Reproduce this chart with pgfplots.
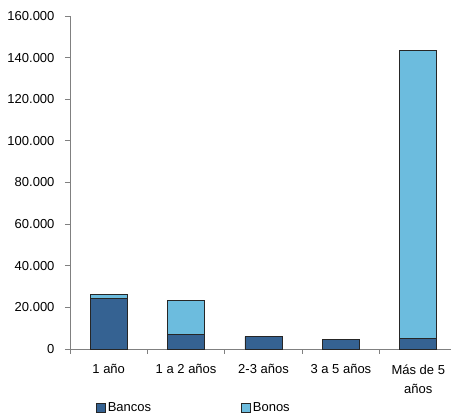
\documentclass[border=0pt]{standalone}
\usepackage{pgfplots}
\pgfplotsset{compat=1.18}
\usepackage{fontspec}
\setmainfont{Liberation Sans}
\definecolor{bancos}{RGB}{53,98,146}
\definecolor{bonos}{RGB}{108,188,222}
\definecolor{axisgray}{RGB}{128,128,128}
\begin{document}
\fontsize{13}{15}\selectfont
\begin{tikzpicture}[x=1pt,y=1pt]
% page frame around the axis box (axis origin at 0,0)
\useasboundingbox (-70,-69) rectangle (381,349);
\begin{axis}[
  anchor=south west,
  scale only axis, width=387pt, height=333pt,
  ybar stacked, bar width=37pt,
  xmin=0.5, xmax=5.5, ymin=0, ymax=160000,
  enlargelimits=false, clip=false,
  axis x line=bottom, axis y line=left,
  axis line style={axisgray, line width=0.8pt, -},
  tick align=outside,
  xtick={1,2,3,4,5},
  xticklabels={1 año, 1 a 2 años, 2-3 años, 3 a 5 años, {Más de 5\\años}},
  major x tick style={draw=none},
  minor xtick={0.5,1.5,2.5,3.5,4.5,5.5},
  minor x tick style={axisgray, line width=0.8pt},
  minor tick length=5pt, major tick length=5pt,
  ytick={0,20000,40000,60000,80000,100000,120000,140000,160000},
  y tick style={axisgray, line width=0.8pt},
  scaled y ticks=false,
  /pgf/number format/.cd, fixed, precision=0, 1000 sep={.}, assume math mode=true,
  /pgfplots/.cd,
  xticklabel style={align=center, yshift=-6pt, font=\fontsize{13}{19}\selectfont},
  yticklabel style={xshift=-6pt, font=\fontsize{13}{15}\selectfont},
  legend columns=2,
  legend image code/.code={\draw[#1] (0pt,-4.5pt) rectangle (9pt,4.5pt);},
  legend style={draw=none, fill=none, at={(0.067,-0.176)}, anchor=west,
    font=\fontsize{13}{15}\selectfont, inner sep=0pt,
    /tikz/every even column/.append style={column sep=88pt}},
  every axis plot/.append style={draw=black!85, line width=0.7pt},
]
\addplot[fill=bancos] coordinates {(1,24500) (2,6800) (3,5900) (4,4700) (5,5200)};
\addplot[fill=bonos] coordinates {(1,1600) (2,16400) (3,0) (4,0) (5,138400)};
\legend{Bancos, Bonos}
\end{axis}
\end{tikzpicture}
\end{document}
